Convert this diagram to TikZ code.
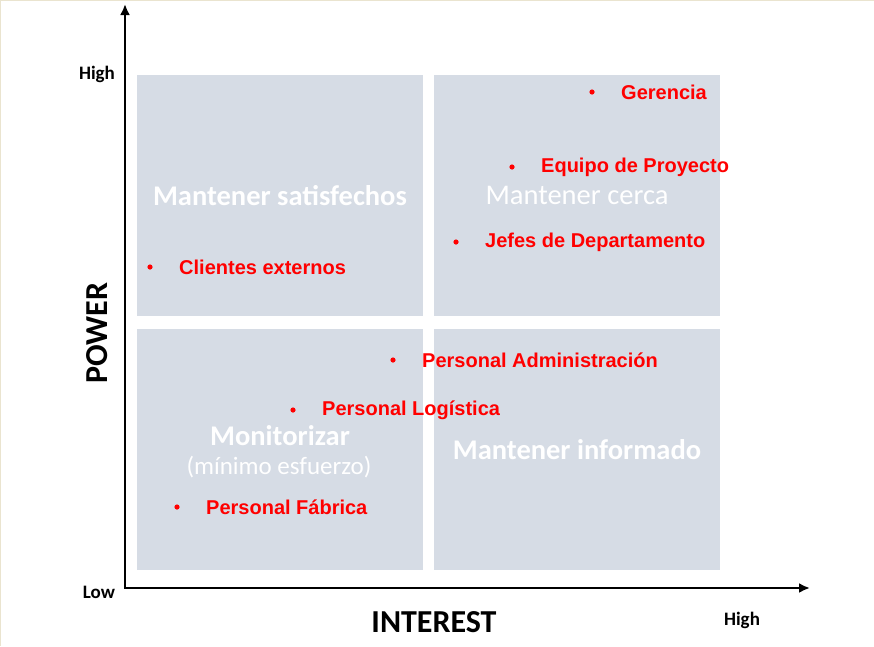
\documentclass[tikz,border=0pt]{standalone}
\usepackage{fontspec}
\usetikzlibrary{arrows.meta,positioning}
\newfontfamily\arialfont{Liberation Sans}
\newfontfamily\calfont{Carlito}
\definecolor{quadgray}{HTML}{D6DCE5}
\definecolor{itemred}{HTML}{FF0000}
\definecolor{edgebeige}{HTML}{EAE4CF}

\begin{document}
\begin{tikzpicture}[
  x=1pt, y=-1pt,
  quad/.style={fill=quadgray, minimum width=286pt, minimum height=241pt, inner sep=0pt},
  title/.style={text=white, inner sep=0pt, font=\calfont\fontsize{28.5}{30}\selectfont},
  item/.style={text=itemred, anchor=west, inner sep=0pt, font=\arialfont\bfseries\fontsize{20}{22}\selectfont},
  dot/.style={fill=itemred},
  axis/.style={line width=2.4pt, {Latex[length=11pt,width=10pt]}-{Latex[length=11pt,width=10pt]}},
  tick/.style={inner sep=0pt, font=\calfont\bfseries\fontsize{19}{20}\selectfont},
  axlabel/.style={inner sep=0pt, font=\calfont\bfseries\fontsize{32}{34}\selectfont}
]
\useasboundingbox (0,0) rectangle (874,646);
\draw[edgebeige, line width=1pt] (0,0.5) -- (874,0.5) (0.5,0) -- (0.5,646);

% quadrants
\node[quad] (tl) at (280,195.5) {};
\node[quad] (tr) at (577,195.5) {};
\node[quad] (bl) at (280,449.5) {};
\node[quad] (br) at (577,449.5) {};

\node[title, font=\calfont\bfseries\fontsize{28.5}{30}\selectfont] (satis) at (tl) {Mantener satisfechos};
\node[title] (cerca) at (tr) {Mantener cerca};
\node[title, font=\calfont\bfseries\fontsize{28.5}{30}\selectfont] (monit) at (280,436) {Monitorizar};
\node[title, font=\calfont\fontsize{25}{27}\selectfont] (minimo) at (279,467) {(mínimo esfuerzo)};
\node[title, font=\calfont\bfseries\fontsize{28.5}{30}\selectfont] (inform) at (br) {Mantener informado};

% axes
\coordinate (origin) at (125,588);
\coordinate (ytip) at (125,4);
\coordinate (xtip) at (810,588);
\draw[axis] (ytip) -- (origin) -- (xtip);

\node[tick] (yhigh) at (97,74) {High};
\node[tick] (ylow) at (99,592) {Low};
\node[tick] (xhigh) at (742,620) {High};
\node[axlabel] (interest) at (434,622) {INTEREST};
\node[axlabel, rotate=90] (power) at (97,333) {POWER};

% stakeholders
\node[item] (ger) at (621,92) {Gerencia};
\node[item] (equipo) at (541,167) {Equipo de Proyecto};
\node[item] (jefes) at (485,242) {Jefes de Departamento};
\node[item] (clientes) at (179,267) {Clientes externos};
\node[item] (admin) at (422,360) {Personal Administración};
\node[item] (logis) at (322,410) {Personal Logística};
\node[item] (fabrica) at (206,507) {Personal Fábrica};

\foreach \n in {ger,equipo,jefes,clientes,admin,logis,fabrica}
  \fill[dot] ([xshift=-29pt]\n.west) circle (2.6pt);
\end{tikzpicture}
\end{document}
